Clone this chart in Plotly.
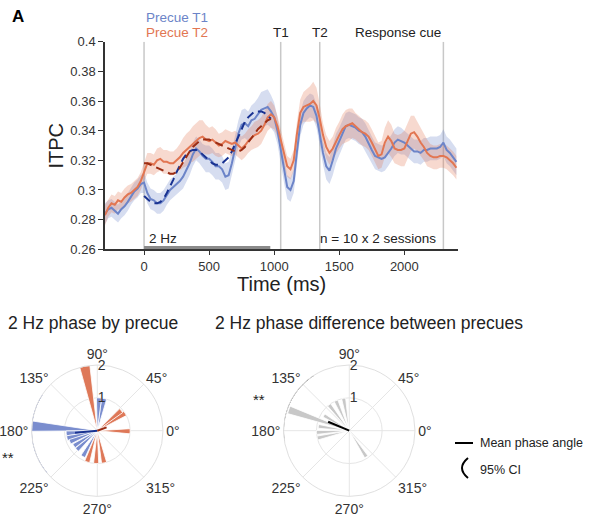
import numpy as np
import plotly.graph_objects as go

W, H = 597, 517
def px(x): return x / W
def py(y): return 1 - y / H

FONT = "Liberation Sans, Arial, Helvetica, sans-serif"

# ---------------- data: ITPC time courses ----------------
time_ms = list(range(-300, 2401, 25))
itpc_t1 = [
    0.284, 0.287, 0.288, 0.286, 0.284, 0.287, 0.289, 0.292, 0.296, 0.299, 0.301, 0.304,
    0.305, 0.298, 0.294, 0.293, 0.291, 0.291, 0.293, 0.297, 0.300, 0.302, 0.304, 0.306,
    0.309, 0.313, 0.318, 0.324, 0.328, 0.326, 0.323, 0.321, 0.321, 0.319, 0.316, 0.316,
    0.314, 0.309, 0.310, 0.318, 0.328, 0.338, 0.344, 0.345, 0.343, 0.347, 0.348, 0.351,
    0.354, 0.355, 0.356, 0.353, 0.349, 0.340, 0.327, 0.313, 0.302, 0.300, 0.306, 0.326,
    0.344, 0.352, 0.355, 0.357, 0.356, 0.350, 0.338, 0.325, 0.316, 0.313, 0.320, 0.328,
    0.333, 0.338, 0.343, 0.344, 0.343, 0.342, 0.340, 0.339, 0.336, 0.331, 0.327, 0.323,
    0.322, 0.321, 0.322, 0.325, 0.328, 0.332, 0.334, 0.333, 0.332, 0.330, 0.328, 0.326,
    0.326, 0.325, 0.327, 0.327, 0.328, 0.328, 0.328, 0.329, 0.332, 0.327, 0.325, 0.322,
    0.319]
itpc_t2 = [
    0.283, 0.288, 0.291, 0.290, 0.293, 0.292, 0.295, 0.297, 0.298, 0.300, 0.302, 0.306,
    0.312, 0.318, 0.318, 0.317, 0.320, 0.321, 0.319, 0.319, 0.318, 0.318, 0.320, 0.322,
    0.325, 0.327, 0.329, 0.331, 0.333, 0.335, 0.336, 0.334, 0.333, 0.334, 0.332, 0.330,
    0.331, 0.333, 0.332, 0.331, 0.332, 0.330, 0.328, 0.330, 0.333, 0.335, 0.337, 0.338,
    0.340, 0.344, 0.349, 0.351, 0.349, 0.343, 0.334, 0.323, 0.316, 0.314, 0.320, 0.338,
    0.352, 0.356, 0.357, 0.358, 0.360, 0.357, 0.348, 0.337, 0.329, 0.325, 0.328, 0.333,
    0.337, 0.341, 0.343, 0.344, 0.345, 0.343, 0.341, 0.339, 0.338, 0.336, 0.332, 0.328,
    0.323, 0.324, 0.332, 0.336, 0.333, 0.328, 0.327, 0.327, 0.328, 0.333, 0.338, 0.339,
    0.336, 0.332, 0.329, 0.325, 0.323, 0.322, 0.322, 0.323, 0.323, 0.322, 0.320, 0.318,
    0.315]
sem_t1 = [
    0.007, 0.006, 0.006, 0.006, 0.006, 0.006, 0.006, 0.006, 0.006, 0.006, 0.006, 0.006,
    0.007, 0.007, 0.007, 0.007, 0.007, 0.007, 0.007, 0.007, 0.007, 0.007, 0.007, 0.007,
    0.008, 0.008, 0.008, 0.008, 0.008, 0.008, 0.008, 0.009, 0.009, 0.009, 0.009, 0.009,
    0.009, 0.009, 0.009, 0.009, 0.009, 0.009, 0.010, 0.010, 0.010, 0.010, 0.011, 0.011,
    0.012, 0.012, 0.012, 0.011, 0.010, 0.009, 0.009, 0.008, 0.008, 0.008, 0.008, 0.008,
    0.008, 0.008, 0.008, 0.008, 0.008, 0.008, 0.008, 0.008, 0.009, 0.009, 0.010, 0.010,
    0.009, 0.009, 0.009, 0.009, 0.009, 0.009, 0.009, 0.009, 0.009, 0.009, 0.009, 0.009,
    0.009, 0.009, 0.009, 0.009, 0.009, 0.009, 0.009, 0.009, 0.008, 0.008, 0.008, 0.008,
    0.008, 0.008, 0.008, 0.008, 0.008, 0.008, 0.008, 0.008, 0.009, 0.009, 0.009, 0.009,
    0.009]
sem_t2 = [
    0.007, 0.006, 0.006, 0.006, 0.006, 0.006, 0.006, 0.006, 0.006, 0.006, 0.006, 0.006,
    0.006, 0.007, 0.007, 0.007, 0.008, 0.008, 0.008, 0.008, 0.008, 0.008, 0.008, 0.009,
    0.010, 0.011, 0.011, 0.012, 0.012, 0.012, 0.011, 0.010, 0.009, 0.009, 0.009, 0.008,
    0.008, 0.008, 0.008, 0.008, 0.008, 0.008, 0.008, 0.008, 0.008, 0.008, 0.009, 0.009,
    0.009, 0.009, 0.009, 0.009, 0.008, 0.007, 0.007, 0.007, 0.007, 0.007, 0.007, 0.008,
    0.009, 0.010, 0.011, 0.012, 0.013, 0.012, 0.010, 0.008, 0.008, 0.008, 0.008, 0.009,
    0.009, 0.010, 0.011, 0.011, 0.010, 0.009, 0.009, 0.009, 0.009, 0.009, 0.009, 0.009,
    0.009, 0.009, 0.010, 0.011, 0.011, 0.010, 0.010, 0.011, 0.012, 0.012, 0.012, 0.011,
    0.010, 0.009, 0.009, 0.009, 0.008, 0.008, 0.008, 0.008, 0.008, 0.008, 0.008, 0.008,
    0.008]

# 2 Hz fits (precue period)
fit_time = list(range(0, 976, 25))
fit_t1 = [0.296, 0.294, 0.292, 0.291, 0.291, 0.292, 0.294, 0.298, 0.302, 0.307,
          0.312, 0.317, 0.321, 0.324, 0.326, 0.327, 0.327, 0.326, 0.324, 0.322,
          0.320, 0.318, 0.317, 0.317, 0.318, 0.320, 0.322, 0.326, 0.331, 0.337,
          0.342, 0.346, 0.349, 0.351, 0.353, 0.353, 0.353, 0.352, 0.350, 0.348]
fit_t2 = [0.318, 0.318, 0.317, 0.316, 0.315, 0.314, 0.313, 0.312, 0.311, 0.311,
          0.312, 0.315, 0.319, 0.323, 0.326, 0.329, 0.331, 0.333, 0.334, 0.334,
          0.334, 0.333, 0.332, 0.331, 0.330, 0.329, 0.328, 0.327, 0.326, 0.326,
          0.327, 0.329, 0.332, 0.335, 0.338, 0.341, 0.343, 0.345, 0.347, 0.348]

events = [0, 1050, 1350, 2300]
event_labels = ["", "T1", "T2", "Response cue"]
osc_window = [0, 970]

# ---------------- data: phase histograms ----------------
phase_t1_theta = [78, 87, 176, 185, 194, 202, 213, 223, 241]
phase_t1_count = [1.0, 1.0, 2.0, 0.95, 0.95, 0.9, 0.85, 0.85, 0.9]
phase_t2_theta = [101, 32, 40, 359, 252, 268, 282]
phase_t2_count = [2.0, 1.0, 0.95, 1.0, 1.0, 1.0, 1.0]
mean_t1 = (185, 0.68)
mean_t2 = (20, 0.30)
ci_t1 = (147, 220)

diff_theta = [100, 114, 128, 149, 161, 172, 183, 193, 303]
diff_count = [1.0, 1.0, 1.0, 0.9, 1.95, 0.95, 1.0, 1.0, 0.95]
mean_diff = (157, 0.70)
ci_diff = (123, 189)

angle_ticks = [0, 45, 90, 135, 180, 225, 270, 315]

# ---------------- colours ----------------
C_T1 = "rgb(108,132,200)"
C_T2 = "rgb(226,118,82)"
C_T1_BAND = "rgba(108,132,200,0.28)"
C_T2_BAND = "rgba(226,118,82,0.28)"
C_T1_FIT = "rgb(25,50,145)"
C_T2_FIT = "rgb(155,45,20)"
C_T1_BAR = "rgb(122,141,206)"
C_T2_BAR = "rgb(222,120,88)"
C_GRAY_BAR = "rgb(200,200,200)"

fig = go.Figure()

t = np.array(time_ms)
for vals, sem, band in [(itpc_t1, sem_t1, C_T1_BAND), (itpc_t2, sem_t2, C_T2_BAND)]:
    v = np.array(vals); s = np.array(sem)
    fig.add_trace(go.Scatter(
        x=np.concatenate([t, t[::-1]]),
        y=np.concatenate([v + s, (v - s)[::-1]]),
        fill="toself", fillcolor=band, line=dict(width=0),
        hoverinfo="skip", showlegend=False))

fig.add_trace(go.Scatter(x=time_ms, y=itpc_t1, mode="lines",
                         line=dict(color=C_T1, width=2), showlegend=False))
fig.add_trace(go.Scatter(x=time_ms, y=itpc_t2, mode="lines",
                         line=dict(color=C_T2, width=2), showlegend=False))
fig.add_trace(go.Scatter(x=fit_time, y=fit_t1, mode="lines",
                         line=dict(color=C_T1_FIT, width=2, dash="8px,5px"), showlegend=False))
fig.add_trace(go.Scatter(x=fit_time, y=fit_t2, mode="lines",
                         line=dict(color=C_T2_FIT, width=2, dash="8px,5px"), showlegend=False))

# ---------------- polar plots ----------------
BIN_L = 9
BIN_R = 7
fig.add_trace(go.Barpolar(r=phase_t1_count, theta=phase_t1_theta, width=BIN_L,
                          marker=dict(color=C_T1_BAR, line=dict(color="white", width=0.8)),
                          subplot="polar", showlegend=False))
fig.add_trace(go.Barpolar(r=phase_t2_count, theta=phase_t2_theta, width=BIN_L,
                          marker=dict(color=C_T2_BAR, line=dict(color="white", width=0.8)),
                          subplot="polar", showlegend=False))
fig.add_trace(go.Scatterpolar(r=[0, mean_t1[1]], theta=[mean_t1[0]] * 2, mode="lines",
                              line=dict(color=C_T1_FIT, width=2), subplot="polar", showlegend=False))
fig.add_trace(go.Scatterpolar(r=[0, mean_t2[1]], theta=[mean_t2[0]] * 2, mode="lines",
                              line=dict(color=C_T2_FIT, width=2), subplot="polar", showlegend=False))
arc1 = np.linspace(ci_t1[0], ci_t1[1], 60)
fig.add_trace(go.Scatterpolar(r=[2.02] * len(arc1), theta=arc1, mode="lines",
                              line=dict(color=C_T1_FIT, width=2), cliponaxis=False,
                              subplot="polar", showlegend=False))

fig.add_trace(go.Barpolar(r=diff_count, theta=diff_theta, width=BIN_R,
                          marker=dict(color=C_GRAY_BAR, line=dict(color="white", width=0.8)),
                          subplot="polar2", showlegend=False))
fig.add_trace(go.Scatterpolar(r=[0, mean_diff[1]], theta=[mean_diff[0]] * 2, mode="lines",
                              line=dict(color="black", width=2), subplot="polar2", showlegend=False))
arc2 = np.linspace(ci_diff[0], ci_diff[1], 60)
fig.add_trace(go.Scatterpolar(r=[2.02] * len(arc2), theta=arc2, mode="lines",
                              line=dict(color="black", width=2), cliponaxis=False,
                              subplot="polar2", showlegend=False))

def polar_layout(cx):
    R = 65.7
    cy = 430.7
    return dict(
        domain=dict(x=[px(cx - R), px(cx + R)], y=[py(cy + R), py(cy - R)]),
        bgcolor="white",
        barmode="overlay",
        angularaxis=dict(rotation=0, direction="counterclockwise",
                         tickmode="array", tickvals=angle_ticks,
                         ticktext=[f"{a}°" for a in angle_ticks],
                         showline=True, linecolor="#e0e0e0", linewidth=1,
                         gridcolor="#e6e6e6", ticks="",
                         tickfont=dict(family=FONT, size=14, color="#333")),
        radialaxis=dict(range=[0, 2], tickmode="array", tickvals=[1, 2],
                        angle=90, side="clockwise", tickangle=90, showline=False,
                        gridcolor="#e6e6e6", ticks="",
                        tickfont=dict(family=FONT, size=14, color="#333")),
    )

# ---------------- shapes ----------------
shapes = []
for e in events:
    shapes.append(dict(type="line", xref="x", yref="y", x0=e, x1=e, y0=0.26, y1=0.40,
                       line=dict(color="#c8c8c8", width=1.5), layer="below"))
shapes.append(dict(type="rect", xref="x", yref="y", x0=osc_window[0], x1=osc_window[1],
                   y0=0.26, y1=0.2622, fillcolor="#8a8a8a", line=dict(width=0)))
# legend symbols
shapes.append(dict(type="line", xref="paper", yref="paper", x0=px(455), x1=px(473),
                   y0=py(443), y1=py(443), line=dict(color="black", width=2)))
shapes.append(dict(type="path", xref="paper", yref="paper",
                   path=f"M {px(468)},{py(458)} Q {px(456)},{py(468)} {px(468)},{py(478)}",
                   line=dict(color="black", width=2)))

# ---------------- annotations ----------------
ann = []
def A(text, x, y, xanchor="center", yanchor="middle", size=13, color="#222", xref="paper",
      yref="paper", textangle=0, bold=False):
    ann.append(dict(text=f"<b>{text}</b>" if bold else text, x=x, y=y, xref=xref, yref=yref,
                    xanchor=xanchor, yanchor=yanchor, showarrow=False, textangle=textangle,
                    font=dict(family=FONT, size=size, color=color)))

A("A", px(18), py(17), size=17, color="black", bold=True)
A("Precue T1", 0, py(17.3), xanchor="left", size=13.5, color=C_T1, xref="x")
A("Precue T2", 0, py(32.7), xanchor="left", size=13.5, color=C_T2, xref="x")
for e, lab in zip(events, event_labels):
    if lab == "Response cue":
        A(lab, e, py(32.7), xanchor="right", xref="x", size=13.5)
    elif lab:
        A(lab, e, py(32.7), xref="x", size=13.5)
A("2 Hz", 25, py(238), xanchor="left", xref="x", size=13.5)
A("n = 10 x 2 sessions", 2260, py(238), xanchor="right", xref="x", size=13.5)
A("ITPC", px(55), py(145.5), size=20, textangle=-90)
A("Time (ms)", px(281), py(284), size=20)

A("2 Hz phase by precue", px(93), py(323), size=17.5)
A("2 Hz phase difference between precues", px(213), py(323), xanchor="left", size=17.5)
A("**", px(0), py(457), xanchor="left", size=15)
A("**", px(259), py(399), size=15)
A("Mean phase angle", px(478), py(443), xanchor="left", size=12.5)
A("95% CI", px(478), py(470), xanchor="left", size=12.5)

fig.update_layout(
    width=W, height=H, margin=dict(l=0, r=0, t=0, b=0, autoexpand=False),
    paper_bgcolor="white", plot_bgcolor="white", showlegend=False,
    font=dict(family=FONT, color="#222"),
    xaxis=dict(domain=[px(105), px(457.7)], range=[-300, 2410], automargin=False,
               tickmode="array", tickvals=[0, 500, 1000, 1500, 2000],
               ticks="outside", ticklen=4, tickwidth=1.2, tickcolor="#333",
               showline=True, linecolor="#333", linewidth=1.5, showgrid=False,
               zeroline=False, tickfont=dict(family=FONT, size=13, color="#333")),
    yaxis=dict(domain=[py(249.3), py(41.7)], range=[0.26, 0.40], automargin=False,
               tickmode="array",
               tickvals=[0.26, 0.28, 0.30, 0.32, 0.34, 0.36, 0.38, 0.40],
               ticktext=["0.26", "0.28", "0.3", "0.32", "0.34", "0.36", "0.38", "0.4"],
               ticks="outside", ticklen=5, tickwidth=1.2, tickcolor="#333",
               showline=True, linecolor="#333", linewidth=1.5, showgrid=False,
               zeroline=False, tickfont=dict(family=FONT, size=13, color="#333")),
    polar=polar_layout(97.3),
    polar2=polar_layout(349.3),
    shapes=shapes, annotations=ann,
)

fig.write_html("out.html", config={"displayModeBar": False},
               post_script="document.body.style.margin='0';document.body.style.padding='0';")
